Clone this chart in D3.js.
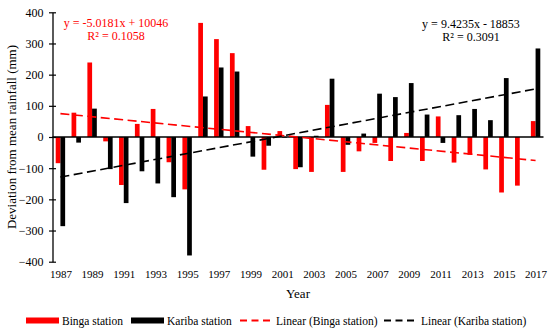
<!DOCTYPE html>
<html>
<head>
<meta charset="utf-8">
<script src="https://cdn.jsdelivr.net/npm/d3@7"></script>
<style>
html,body{margin:0;padding:0;background:#fff;}
svg{display:block;font-family:"Liberation Serif","Times New Roman",serif;}
</style>
</head>
<body>
<svg id="chart" width="550" height="334"></svg>
<script>
const years = d3.range(1987, 2018);
const binga = [-84, 78, 239, -14, -154, 42, 90, -81, -168, 366, 314, 269, 35, -105, 19, -103, -112, 103, -112, -46, -19, -77, 13, -77, 66, -82, -57, -104, -178, -156, 51];
const kariba = [-286, -18, 91, -103, -212, -110, -149, -193, -380, 130, 223, 210, -63, -28, -2, -97, 4, 187, -25, 11, 139, 128, 173, 72, -19, 70, 90, 54, 189, 0, 284];
const yTicks = [-400, -300, -200, -100, 0, 100, 200, 300, 400];
const xTickYears = d3.range(1987, 2018, 2);
const seriesNames = ["Binga station", "Kariba station"];
const seriesColors = ["#ff0000", "#000000"];
const trendSlope = [-5.0181, 9.4235];
const trendIntercept = [10046, -18853];
const trendLabels = [["y = -5.0181x + 10046", "R² = 0.1058"], ["y = 9.4235x - 18853", "R² = 0.3091"]];
const legendLabels = ["Binga station", "Kariba station", "Linear (Binga station)", "Linear (Kariba station)"];

const svg = d3.select("#chart");
const pLeft = 52.5, pRight = 543.5, pTop = 12.3, pBottom = 261.7;

const x0 = d3.scaleBand().domain(years).range([pLeft, pRight]).paddingInner(0).paddingOuter(0);
const x1 = d3.scaleBand().domain(seriesNames).range([0, x0.bandwidth()]).paddingInner(0).paddingOuter(0.68);
const y = d3.scaleLinear().domain([-400, 400]).range([pBottom, pTop]);

// bars
const series = [binga, kariba];
series.forEach((vals, si) => {
  svg.append("g").selectAll("rect").data(vals).join("rect")
    .attr("x", (d, i) => x0(years[i]) + x1(seriesNames[si]))
    .attr("width", x1.bandwidth())
    .attr("y", d => y(Math.max(0, d)))
    .attr("height", d => Math.abs(y(d) - y(0)))
    .attr("fill", seriesColors[si]);
});

// zero line (category axis)
svg.append("line").attr("x1", pLeft).attr("x2", pRight).attr("y1", y(0)).attr("y2", y(0))
  .attr("stroke", "#000").attr("stroke-width", 1.3);

// y axis
const yAxis = d3.axisLeft(y).tickValues(yTicks).tickSize(0).tickPadding(9);
const gy = svg.append("g").attr("transform", `translate(${pLeft},0)`).call(yAxis);
gy.select(".domain").attr("stroke", "#000").attr("stroke-width", 1.3);
gy.selectAll("text").attr("font-size", 12).attr("font-family", "Liberation Serif, serif").attr("fill", "#000");
gy.selectAll(".tick").append("line").attr("x1", -3.5).attr("x2", 3.5).attr("stroke", "#000").attr("stroke-width", 1.2);

// x tick labels
const xTickScale = d3.scalePoint().domain(years).range([pLeft + x0.bandwidth() / 2, pRight - x0.bandwidth() / 2]);
const xAxis = d3.axisBottom(xTickScale).tickValues(xTickYears).tickSize(0).tickPadding(0);
const gx = svg.append("g").attr("transform", `translate(0,${270})`).call(xAxis);
gx.select(".domain").remove();
gx.selectAll("text").attr("font-size", 11).attr("font-family", "Liberation Serif, serif").attr("fill", "#000");

// trend lines
const trendDash = ["9,4.5", "9,4.5"];
trendSlope.forEach((m, si) => {
  const ends = [years[0], years[years.length - 1]].map(yr => ({ yr, v: m * yr + trendIntercept[si] }));
  svg.append("path")
    .attr("d", d3.line().x(d => xTickScale(d.yr)).y(d => y(d.v))(ends))
    .attr("fill", "none").attr("stroke", seriesColors[si]).attr("stroke-width", 1.6)
    .attr("stroke-dasharray", trendDash[si]);
});

// equation labels
const eqPos = [[116, 27], [471, 28]];
trendLabels.forEach((lines, si) => {
  lines.forEach((t, li) => {
    svg.append("text").attr("x", eqPos[si][0]).attr("y", eqPos[si][1] + li * 12.5)
      .attr("text-anchor", "middle").attr("font-size", 12).attr("fill", seriesColors[si]).text(t);
  });
});

// axis titles
svg.append("text").attr("transform", `translate(16,${(pTop + pBottom) / 2}) rotate(-90)`)
  .attr("text-anchor", "middle").attr("font-size", 13).text("Deviation from mean rainfall (mm)");
svg.append("text").attr("x", 298).attr("y", 298).attr("text-anchor", "middle").attr("font-size", 13).text("Year");

// legend
const legY = 325;
const lg = svg.append("g");
const legItems = [
  { x: 26, type: "rect", color: seriesColors[0], tx: 62 },
  { x: 131, type: "rect", color: seriesColors[1], tx: 167 },
  { x: 240, type: "line", color: seriesColors[0], tx: 276 },
  { x: 384, type: "line", color: seriesColors[1], tx: 421 }
];
legItems.forEach((it, i) => {
  if (it.type === "rect") {
    lg.append("rect").attr("x", it.x).attr("y", legY - 7.5).attr("width", 33).attr("height", 6).attr("fill", it.color);
  } else {
    lg.append("line").attr("x1", it.x).attr("x2", it.x + 32).attr("y1", legY - 4.5).attr("y2", legY - 4.5)
      .attr("stroke", it.color).attr("stroke-width", 2).attr("stroke-dasharray", "7,4.5");
  }
  lg.append("text").attr("x", it.tx).attr("y", legY).attr("font-size", 11.5).text(legendLabels[i]);
});
</script>
</body>
</html>
